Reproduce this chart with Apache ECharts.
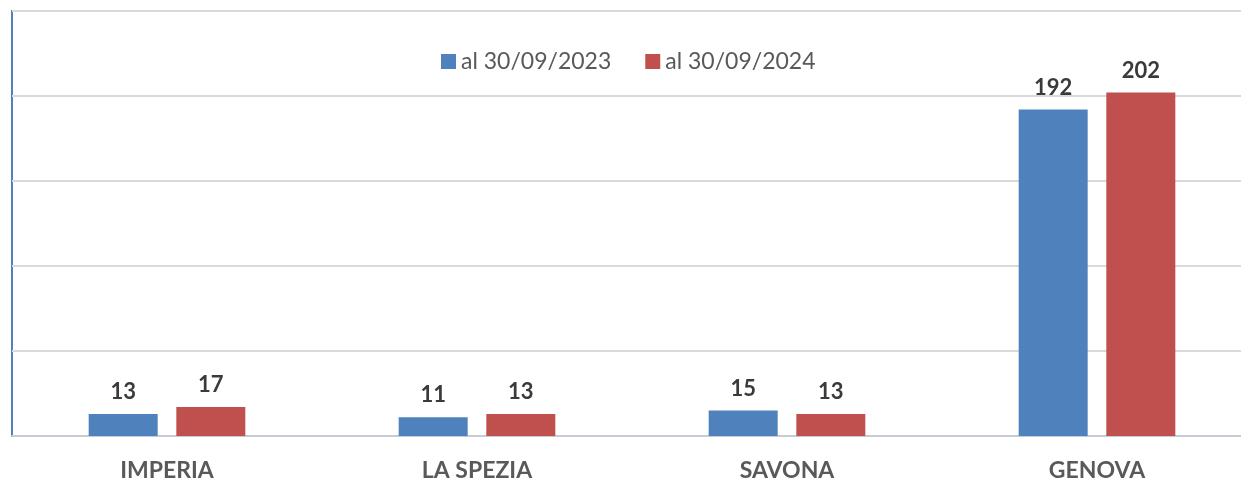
<!DOCTYPE html>
<html>
<head>
<meta charset="utf-8">
<script src="https://cdn.jsdelivr.net/npm/echarts@6/dist/echarts.min.js"></script>
<style>
  html, body { margin: 0; padding: 0; background: #fff; overflow: hidden; }
  /* il grafico originale esce dal bordo destro: il contenitore e' piu' largo della pagina */
  #chart { width: 1252px; height: 483px; }
</style>
</head>
<body>
<div id="chart"></div>
<script>
// dati
const categories = ['IMPERIA', 'LA SPEZIA', 'SAVONA', 'GENOVA']
const seriesNames = ['al 30/09/2023', 'al 30/09/2024']
const values2023 = [13, 11, 15, 192]
const values2024 = [17, 13, 13, 202]
const yTicks = [0, 50, 100, 150, 200, 250]

const myChart = echarts.init(document.getElementById('chart'))

const labelStyle = {
  show: true,
  position: 'top',
  distance: 11,
  color: '#3a3a3a',
  fontSize: 22,
  fontWeight: 'bold',
  fontFamily: 'Lato'
}

const option = {
  animation: false,
  backgroundColor: '#fff',
  textStyle: { fontFamily: 'Lato' },
  legend: {
    left: 436,
    top: 45,
    itemWidth: 15,
    itemHeight: 15,
    itemGap: 34,
    icon: 'rect',
    textStyle: { color: '#595959', fontSize: 23, fontFamily: 'Lato' },
    data: seriesNames
  },
  grid: {
    left: 12,
    top: 11,
    right: 0,
    height: 425,
    show: true,
    borderColor: '#4f81bd',
    borderWidth: 2
  },
  xAxis: {
    type: 'category',
    data: categories,
    axisTick: { show: false },
    axisLine: { lineStyle: { color: '#c5ccd6', width: 2 } },
    axisLabel: {
      margin: 23,
      color: '#595959',
      fontSize: 23,
      fontWeight: 'bold',
      fontFamily: 'Lato'
    }
  },
  yAxis: {
    type: 'value',
    min: yTicks[0],
    max: yTicks[yTicks.length - 1],
    interval: 50,
    axisLabel: { show: false },
    axisLine: { show: false },
    axisTick: { show: false },
    splitLine: { lineStyle: { color: '#d9d9d9', width: 2 } }
  },
  series: [
    {
      name: seriesNames[0],
      type: 'bar',
      data: values2023,
      barWidth: 69,
      barGap: '27%',
      itemStyle: { color: '#4f81bd' },
      label: labelStyle
    },
    {
      name: seriesNames[1],
      type: 'bar',
      data: values2024,
      barWidth: 69,
      barGap: '27%',
      itemStyle: { color: '#c0504d' },
      label: labelStyle
    }
  ]
}

myChart.setOption(option)
</script>
</body>
</html>
